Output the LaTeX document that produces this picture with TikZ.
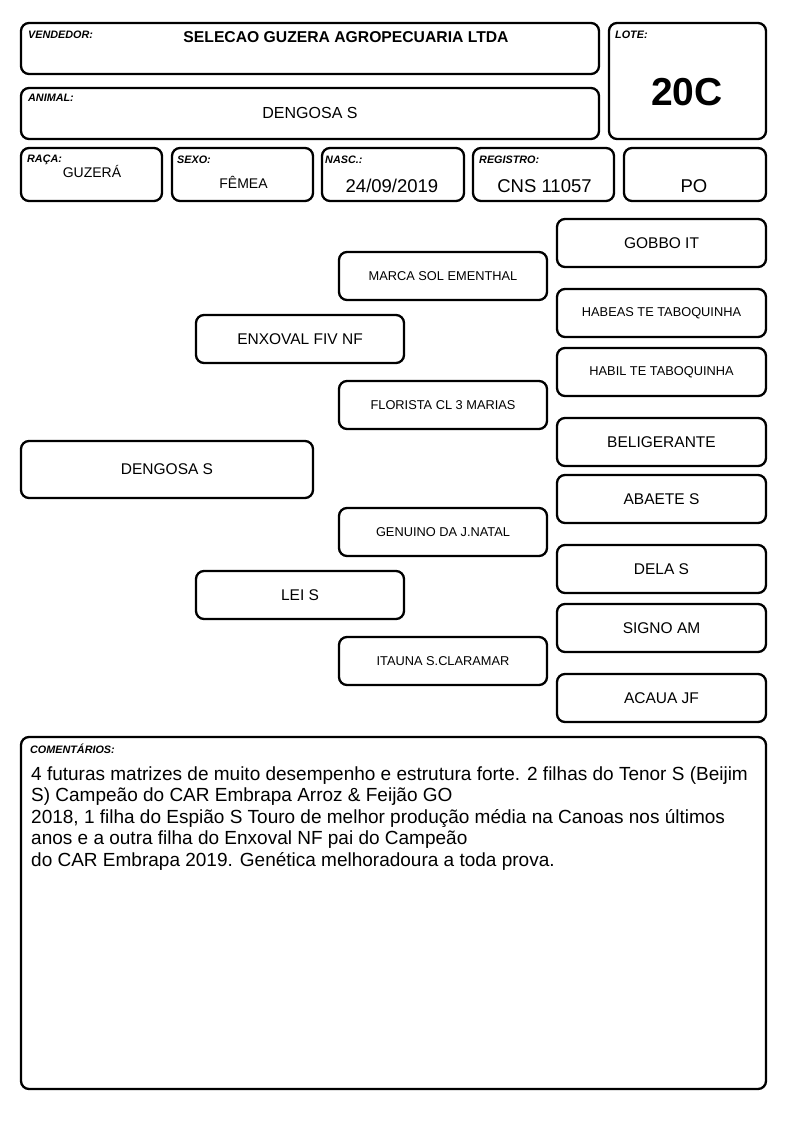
\documentclass[tikz,border=0pt]{standalone}
\usepackage{fontspec}
\setmainfont{Liberation Sans}
\begin{document}
\begin{tikzpicture}[x=1pt,y=-1pt,
  box/.style={draw=black, line width=2.3pt, rounded corners=8pt, inner sep=0pt, outer sep=0pt},
  pbig/.style={box, font=\fontsize{15.5}{18}\selectfont},
  psmall/.style={box, font=\fontsize{12.8}{15}\selectfont},
  lbl/.style={font=\fontsize{10.8}{12}\selectfont\bfseries\itshape, anchor=base west, inner sep=0pt},
  val/.style={font=\fontsize{14}{16}\selectfont, anchor=base, inner sep=0pt},
  valbig/.style={font=\fontsize{18.5}{21}\selectfont, anchor=base, inner sep=0pt},
  cline/.style={font=\fontsize{19}{21}\selectfont, anchor=base west, inner sep=0pt}
]
\useasboundingbox (0,0) rectangle (794,1123);
% header boxes
\node[box, minimum width=578pt, minimum height=51pt] (vend) at (310,48.5) {};
\node[box, minimum width=578pt, minimum height=51pt] (anim) at (310,113.5) {};
\node[box, minimum width=157pt, minimum height=116pt] (lote) at (687.5,81) {};
\node[box, minimum width=141pt, minimum height=53pt] (raca) at (91.5,174.5) {};
\node[box, minimum width=141pt, minimum height=53pt] (sexo) at (242.5,174.5) {};
\node[box, minimum width=142pt, minimum height=53pt] (nasc) at (393,174.5) {};
\node[box, minimum width=141pt, minimum height=53pt] (regi) at (543.5,174.5) {};
\node[box, minimum width=142pt, minimum height=53pt] (po) at (695,174.5) {};
% header texts
\node[lbl] (vendl) at (28,39) {VENDEDOR:};
\node[anchor=base, inner sep=0pt, font=\fontsize{15.7}{18}\selectfont\bfseries] (vendv) at (346,43) {SELECAO GUZERA AGROPECUARIA LTDA};
\node[lbl] (animl) at (28,102) {ANIMAL:};
\node[anchor=base, inner sep=0pt, font=\fontsize{16}{18}\selectfont] (animv) at (310,119) {DENGOSA S};
\node[lbl] (lotel) at (615,39) {LOTE:};
\node[anchor=base, inner sep=0pt, font=\fontsize{39}{44}\selectfont\bfseries] (lotev) at (687,106) {20C};
\node[lbl] (racal) at (27,163) {RAÇA:};
\node[val] (racav) at (92,178) {GUZERÁ};
\node[lbl] (sexol) at (177,164) {SEXO:};
\node[val] (sexov) at (243.5,189) {FÊMEA};
\node[lbl] (nascl) at (325,164) {NASC.:};
\node[valbig] (nascv) at (392,193) {24/09/2019};
\node[lbl] (regil) at (479,164) {REGISTRO:};
\node[valbig] (regiv) at (544.5,193) {CNS 11057};
\node[valbig] (pov) at (694,193) {PO};
% pedigree
\node[pbig, minimum width=292pt, minimum height=57pt] (dengosa) at (167,469.5) {DENGOSA S};
\node[pbig, minimum width=208pt, minimum height=48pt] (enxoval) at (300,339) {ENXOVAL FIV NF};
\node[pbig, minimum width=208pt, minimum height=48pt] (lei) at (300,595) {LEI S};
\node[psmall, minimum width=208pt, minimum height=48pt] (marca) at (443,276) {MARCA SOL EMENTHAL};
\node[psmall, minimum width=208pt, minimum height=48pt] (florista) at (443,405) {FLORISTA CL 3 MARIAS};
\node[psmall, minimum width=208pt, minimum height=48pt] (genuino) at (443,532) {GENUINO DA J.NATAL};
\node[psmall, minimum width=208pt, minimum height=48pt] (itauna) at (443,661) {ITAUNA S.CLARAMAR};
\node[pbig, minimum width=209pt, minimum height=48pt] (gobbo) at (661.5,243) {GOBBO IT};
\node[psmall, minimum width=209pt, minimum height=48pt] (habeas) at (661.5,313) {HABEAS TE TABOQUINHA};
\node[psmall, minimum width=209pt, minimum height=48pt] (habil) at (661.5,372) {HABIL TE TABOQUINHA};
\node[pbig, minimum width=209pt, minimum height=48pt] (belig) at (661.5,442) {BELIGERANTE};
\node[pbig, minimum width=209pt, minimum height=48pt] (abaete) at (661.5,499) {ABAETE S};
\node[pbig, minimum width=209pt, minimum height=48pt] (dela) at (661.5,569) {DELA S};
\node[pbig, minimum width=209pt, minimum height=48pt] (signo) at (661.5,628) {SIGNO AM};
\node[pbig, minimum width=209pt, minimum height=48pt] (acaua) at (661.5,698) {ACAUA JF};
% comments
\node[box, minimum width=745pt, minimum height=352pt] (coment) at (393.5,913) {};
\node[lbl] (comentl) at (30,753) {COMENTÁRIOS:};
\node[cline] (c1) at (31,780) {4 futuras matrizes de muito desempenho e estrutura forte. 2 filhas do Tenor S (Beijim};
\node[cline] (c2) at (31,801.5) {S) Campeão do CAR Embrapa Arroz \& Feijão GO};
\node[cline] (c3) at (31,823) {2018, 1 filha do Espião S Touro de melhor produção média na Canoas nos últimos};
\node[cline] (c4) at (31,844.5) {anos e a outra filha do Enxoval NF pai do Campeão};
\node[cline] (c5) at (31,866) {do CAR Embrapa 2019. Genética melhoradoura a toda prova.};
\end{tikzpicture}
\end{document}
